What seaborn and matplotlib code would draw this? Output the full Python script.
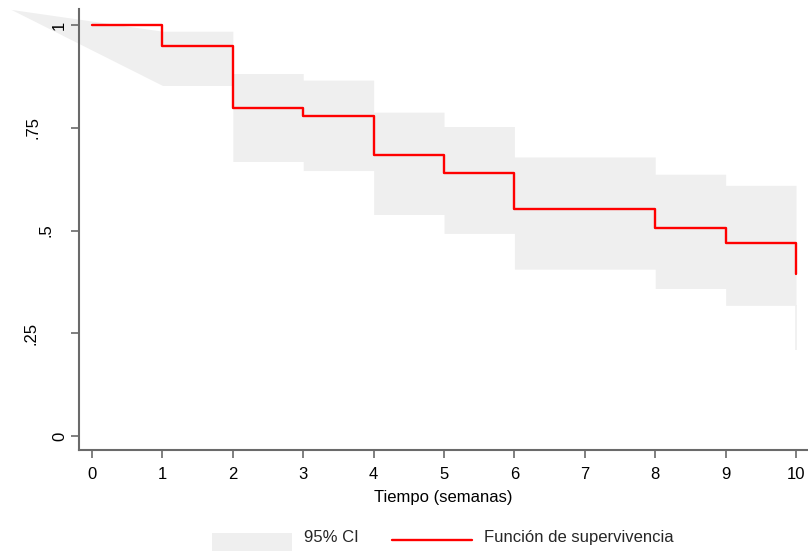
import numpy as np
import pandas as pd
import matplotlib
matplotlib.use("Agg")
import matplotlib.pyplot as plt
import seaborn as sns
from matplotlib.patches import Patch
from matplotlib.lines import Line2D

# ---- data ----
km_time = [0, 1, 2, 3, 4, 5, 6, 8, 9, 10]
km_surv = [1.0, 0.950, 0.797, 0.779, 0.683, 0.639, 0.553, 0.507, 0.470, 0.394]

# lead-in of the CI band (drawn as a wedge) then step intervals
ci_start_time = -1.15
ci_start_value = 1.038
ci_time = [1, 2, 3, 4, 5, 6, 8, 9, 10]
ci_upper = [0.985, 0.882, 0.866, 0.788, 0.753, 0.679, 0.637, 0.610]
ci_lower = [0.853, 0.668, 0.646, 0.539, 0.493, 0.406, 0.359, 0.318]
ci_end_low = 0.209

x_ticks = list(range(0, 11))
y_ticks = [0, 0.25, 0.5, 0.75, 1]
y_ticklabels = ["0", ".25", ".5", ".75", "1"]
y_label_pads = [2.3, 23.2, 12.4, 21.7, 3.0]   # Stata-style offsets of rotated labels

sns.set_theme(style="white")
plt.rcParams["font.family"] = ["Liberation Sans", "DejaVu Sans"]

FS = 12
fig = plt.figure(figsize=(8.08, 5.58), dpi=100)
ax = fig.add_axes([79 / 808, 108 / 558, 729 / 808, 441 / 558])
ax.set_axisbelow(False)

band_color = "#efefef"
px = [ci_start_time]
pu = [ci_start_value]
pl = [ci_start_value]
for i in range(len(ci_upper)):
    px += [ci_time[i], ci_time[i + 1]]
    pu += [ci_upper[i], ci_upper[i]]
    pl += [ci_lower[i], ci_lower[i]]
ax.fill_between(px, pl, pu, color=band_color, linewidth=0, clip_on=False, zorder=1)
ax.vlines(ci_time[-1], ci_end_low, ci_lower[-1], color=band_color, linewidth=1.2, zorder=1)

df = pd.DataFrame({"t": km_time, "s": km_surv})
sns.lineplot(data=df, x="t", y="s", estimator=None, sort=False,
             drawstyle="steps-post", color="#ff0000", linewidth=1.7, ax=ax, zorder=3)

ax.set_xlim(-0.185, 10.17)
ax.set_ylim(-0.034, 1.039)
ax.set_xticks(x_ticks)
ax.set_xticklabels([str(v) for v in x_ticks])
ax.set_yticks(y_ticks)
ax.set_yticklabels(y_ticklabels, rotation=90, va="center", ha="right")
spine_col = "#6a6a6a"
ax.tick_params(axis="both", which="both", direction="out", length=6, width=1.2,
               color=spine_col, labelsize=FS, labelcolor="black",
               bottom=True, left=True)
ax.tick_params(axis="x", pad=6.0)
for tk, p in zip(ax.yaxis.get_major_ticks(), y_label_pads):
    tk.set_pad(p)

for s in ["top", "right"]:
    ax.spines[s].set_visible(False)
for s in ["left", "bottom"]:
    ax.spines[s].set_color(spine_col)
    ax.spines[s].set_linewidth(1.5)

ax.set_xlabel("Tiempo (semanas)", fontsize=FS, color="black", labelpad=5.7)
ax.set_ylabel("")

handles = [Patch(facecolor=band_color, edgecolor="none"),
           Line2D([0], [0], color="#ff0000", linewidth=1.7)]
leg = fig.legend(handles, ["95% CI", "Función de supervivencia"], loc="center",
                 bbox_to_anchor=(443 / 808, 1 - 542 / 558), ncol=2, frameon=False,
                 fontsize=FS, handlelength=4.8, handleheight=1.34, columnspacing=2.0,
                 handletextpad=0.7, borderpad=0, borderaxespad=0)
for t in leg.get_texts():
    t.set_y(6)

fig.savefig("out.png", dpi=100)
